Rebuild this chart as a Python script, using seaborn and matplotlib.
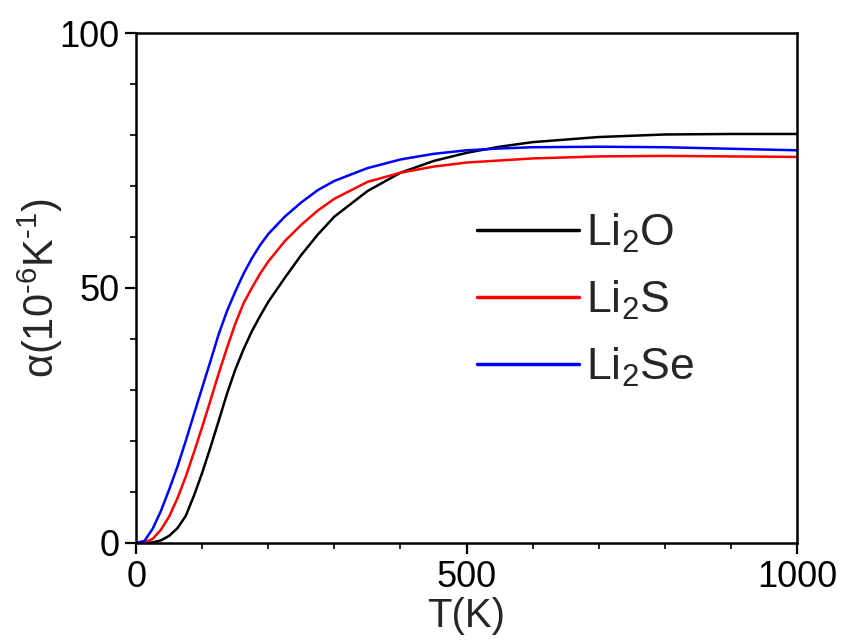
import numpy as np
import pandas as pd
import matplotlib
matplotlib.use("Agg")
import matplotlib.pyplot as plt
import seaborn as sns

# Data
T = [0, 12.5, 25, 37.5, 50, 62.5, 75, 87.5, 100, 112.5, 125, 137.5, 150, 162.5, 175, 187.5,
     200, 225, 250, 275, 300, 350, 400, 450, 500, 550, 600, 700, 800, 900, 1000]
li2o = [0, 0, 0.1, 0.5, 1.4, 2.9, 5.3, 9.3, 13.8, 18.8, 24.0, 29.3, 34.0, 38.0, 41.5, 44.5,
        47.3, 52.0, 56.5, 60.5, 64.0, 69.0, 72.6, 74.9, 76.5, 77.7, 78.6, 79.6, 80.1, 80.2, 80.2]
li2s = [0, 0.1, 0.8, 2.6, 5.2, 8.8, 13.0, 17.8, 22.8, 28.0, 33.3, 38.3, 43.0, 47.0, 50.0, 52.8,
        55.2, 59.2, 62.4, 65.2, 67.5, 70.8, 72.6, 73.8, 74.6, 75.0, 75.4, 75.8, 75.9, 75.8, 75.7]
li2se = [0, 0.4, 2.8, 6.3, 10.5, 15.0, 20.0, 25.3, 30.5, 35.7, 41.0, 45.5, 49.3, 52.8, 55.8, 58.4,
         60.6, 64.0, 66.8, 69.2, 71.0, 73.5, 75.2, 76.3, 77.0, 77.35, 77.6, 77.7, 77.6, 77.3, 77.0]
labels = ["Li$_2$O", "Li$_2$S", "Li$_2$Se"]
colors = ["black", "red", "blue"]

df = pd.concat([
    pd.DataFrame({"T": T, "alpha": v, "series": lab})
    for v, lab in zip([li2o, li2s, li2se], labels)
])

sns.set_theme(style="ticks")
plt.rcParams["font.family"] = ["Liberation Sans", "DejaVu Sans"]
plt.rcParams["mathtext.default"] = "regular"
plt.rcParams["mathtext.fontset"] = "custom"
plt.rcParams["mathtext.rm"] = "Liberation Sans"

fig = plt.figure(figsize=(8.46, 6.41), dpi=100)
ax = fig.add_axes([0.161, 0.153, 0.781, 0.7955])

sns.lineplot(data=df, x="T", y="alpha", hue="series", palette=dict(zip(labels, colors)),
             hue_order=labels, linewidth=1.8, ax=ax, legend=True, sort=True)

ax.set_xlim(0, 1000)
ax.set_ylim(0, 100)
ax.set_xticks([0, 500, 1000])
ax.set_yticks([0, 50, 100])
ax.set_xticks(np.arange(0, 1001, 100), minor=True)
ax.set_yticks(np.arange(0, 101, 10), minor=True)
ax.tick_params(axis="both", which="major", direction="out", length=8, width=1.6,
               labelsize=26, colors="black", pad=4)
ax.tick_params(axis="both", which="minor", direction="out", length=4, width=1.4)
for s in ax.spines.values():
    s.set_linewidth(1.8)
    s.set_color("black")
    s.set_visible(True)

ax.set_xlabel("T(K)", fontsize=29, labelpad=2)
ax.set_ylabel("α(10$^{\u20106}$K$^{\u20101}$)", fontsize=30, labelpad=-4)

leg = ax.legend(loc="center left", bbox_to_anchor=(0.455, 0.476), frameon=False,
                fontsize=32, handlelength=2.3, handletextpad=0.15, labelspacing=0.53)
for line in leg.get_lines():
    line.set_linewidth(2.5)

fig.savefig("out.png", dpi=100, facecolor="white")
